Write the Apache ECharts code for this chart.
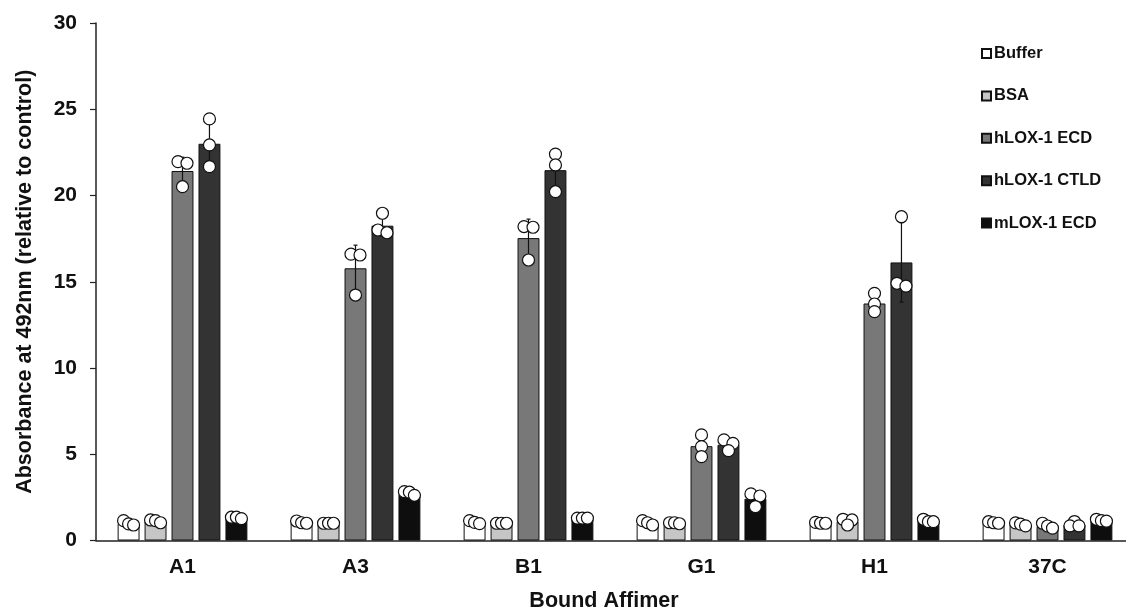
<!DOCTYPE html>
<html>
<head>
<meta charset="utf-8">
<script src="https://cdn.jsdelivr.net/npm/echarts@6/dist/echarts.min.js"></script>
<style>
  html, body { margin: 0; padding: 0; background: #fff; }
  #chart { width: 1126px; height: 610px; }
</style>
</head>
<body>
<div id="chart"></div>
<script>
// ---------- data ----------
const categories = ['A1', 'A3', 'B1', 'G1', 'H1', '37C'];
const seriesNames = ['Buffer', 'BSA', 'hLOX-1 ECD', 'hLOX-1 CTLD', 'mLOX-1 ECD'];
const yTicks = [0, 5, 10, 15, 20, 25, 30];

// bar heights (means)
const bufferMean = [1.0, 1.0, 1.0, 1.0, 1.0, 1.0];
const bsaMean    = [1.09, 0.98, 1.0, 1.0, 1.09, 0.92];
const hEcdMean   = [21.42, 15.78, 17.53, 5.47, 13.74, 0.8];
const hCtldMean  = [23.0, 18.25, 21.47, 5.55, 16.12, 0.92];
const mEcdMean   = [1.32, 2.7, 1.29, 2.42, 1.12, 1.18];

// error bars (SD)
const bufferSd = [0.12, 0.07, 0.08, 0.12, 0.03, 0.05];
const bsaSd    = [0.08, 0.02, 0.02, 0.04, 0.17, 0.1];
const hEcdSd   = [0.8, 1.34, 1.1, 0.63, 0.53, 0.1];
const hCtldSd  = [1.4, 0.6, 1.1, 0.31, 2.3, 0.15];
const mEcdSd   = [0.05, 0.12, 0.02, 0.4, 0.08, 0.07];

// individual replicates
const bufferPts = [[0.9, 1.15, 0.96], [1.03, 1.0, 1.13], [1.05, 1.15, 0.98], [0.9, 1.03, 1.15], [1.0, 1.05, 1.0], [1.03, 1.09, 1.0]];
const bsaPts    = [[1.03, 1.19, 1.15], [1.0, 1.0, 1.0], [1.0, 1.0, 1.0], [1.03, 1.03, 0.97], [0.9, 1.19, 1.23], [0.85, 0.95, 1.02]];
const hEcdPts   = [[21.87, 21.96, 20.51], [16.55, 16.6, 14.23], [18.16, 18.2, 16.26], [6.12, 5.44, 4.86], [14.33, 13.71, 13.27], [0.84, 1.0, 0.72]];
const hCtldPts  = [[24.44, 22.93, 21.67], [18.97, 17.84, 18.0], [22.4, 21.77, 20.22], [5.83, 5.63, 5.21], [18.77, 14.91, 14.75], [0.85, 1.1, 0.85]];
const mEcdPts   = [[1.35, 1.35, 1.27], [2.83, 2.8, 2.62], [1.3, 1.3, 1.3], [2.58, 2.7, 1.96], [1.09, 1.23, 1.09], [1.23, 1.15, 1.12]];

// ---------- styling / layout ----------
const means = [bufferMean, bsaMean, hEcdMean, hCtldMean, mEcdMean];
const sds = [bufferSd, bsaSd, hEcdSd, hCtldSd, mEcdSd];
const pts = [bufferPts, bsaPts, hEcdPts, hCtldPts, mEcdPts];
const colors = ['#ffffff', '#c6c6c6', '#787878', '#333333', '#0e0e0e'];
const CAT_GAP = 0.25, BAR_GAP = 0.23;
const FONT = '"Liberation Sans", Arial, sans-serif';

function barOffset(api, k) {
  const band = api.size([1, 0])[0];
  const n = seriesNames.length;
  const w = band * (1 - CAT_GAP) / (n + (n - 1) * BAR_GAP);
  const total = n * w + (n - 1) * w * BAR_GAP;
  return -total / 2 + k * w * (1 + BAR_GAP) + w / 2;
}

const barSeries = seriesNames.map((name, k) => ({
  name: name,
  type: 'bar',
  data: means[k],
  barGap: (BAR_GAP * 100) + '%',
  barCategoryGap: (CAT_GAP * 100) + '%',
  itemStyle: { color: colors[k], borderColor: '#111', borderWidth: 1 },
  z: 2,
  silent: true
}));

const errData = [];
const ptData = [];
for (let k = 0; k < seriesNames.length; k++) {
  for (let c = 0; c < categories.length; c++) {
    errData.push([c, k, means[k][c], sds[k][c]]);
    ptData.push([c, k].concat(pts[k][c]));
  }
}

const errSeries = {
  type: 'custom',
  data: errData,
  encode: { x: 0, y: 2 },
  z: 3,
  silent: true,
  renderItem: function (params, api) {
    const c = api.value(0), k = api.value(1), m = api.value(2), s = api.value(3);
    const off = barOffset(api, k);
    const top = api.coord([c, m + s]);
    const bot = api.coord([c, Math.max(0, m - s)]);
    const x = top[0] + off;
    const style = { stroke: '#111', lineWidth: 1.2 };
    return {
      type: 'group',
      children: [
        { type: 'line', shape: { x1: x, y1: top[1], x2: x, y2: bot[1] }, style: style },
        { type: 'line', shape: { x1: x - 2, y1: top[1], x2: x + 2, y2: top[1] }, style: style },
        { type: 'line', shape: { x1: x - 2, y1: bot[1], x2: x + 2, y2: bot[1] }, style: style }
      ]
    };
  }
};

const ptSeries = {
  type: 'custom',
  data: ptData,
  encode: { x: 0, y: [2, 3, 4] },
  z: 4,
  silent: true,
  renderItem: function (params, api) {
    const c = api.value(0), k = api.value(1);
    const off = barOffset(api, k);
    const items = [];
    for (let i = 0; i < 3; i++) {
      const p = api.coord([c, api.value(2 + i)]);
      items.push({ x: p[0] + off, y: p[1] });
    }
    items.sort((a, b) => a.y - b.y);
    // group near-identical values and spread them sideways
    const clusters = [];
    items.forEach((it) => {
      const last = clusters[clusters.length - 1];
      if (last && Math.abs(it.y - last[last.length - 1].y) < 4) last.push(it);
      else clusters.push([it]);
    });
    const children = [];
    clusters.forEach((cl) => {
      const sp = cl.length === 2 ? 9 : 5;
      cl.forEach((it, j) => {
        children.push({
          type: 'circle',
          shape: { cx: it.x + (j - (cl.length - 1) / 2) * sp, cy: it.y, r: 6 },
          style: { fill: '#fff', stroke: '#111', lineWidth: 1.2 }
        });
      });
    });
    return { type: 'group', children: children };
  }
};

const chart = echarts.init(document.getElementById('chart'), null, { renderer: 'canvas' });
chart.setOption({
  animation: false,
  backgroundColor: '#fff',
  textStyle: { fontFamily: FONT },
  grid: { left: 96, top: 23, width: 1038, height: 517.5, containLabel: false, outerBoundsMode: 'none' },
  legend: {
    data: seriesNames,
    orient: 'vertical',
    left: 981,
    top: 45,
    padding: 0,
    itemWidth: 9,
    itemHeight: 9,
    itemGap: 25.4,
    icon: 'rect',
    selectedMode: false,
    textStyle: { fontFamily: FONT, fontWeight: 'bold', fontSize: 16.5, color: '#111', lineHeight: 17, padding: [0, 0, 0, -2] }
  },
  xAxis: {
    type: 'category',
    data: categories,
    name: 'Bound Affimer',
    nameLocation: 'middle',
    nameGap: 50,
    nameTextStyle: { fontFamily: FONT, fontWeight: 'bold', fontSize: 21.5, color: '#111', padding: [0, 22, 0, 0] },
    axisLine: { lineStyle: { color: '#222', width: 1.5 } },
    axisTick: { show: false },
    axisLabel: { fontFamily: FONT, fontWeight: 'bold', fontSize: 21, color: '#111', margin: 16 }
  },
  yAxis: {
    type: 'value',
    min: yTicks[0],
    max: yTicks[yTicks.length - 1],
    interval: 5,
    name: 'Absorbance at 492nm (relative to control)',
    nameLocation: 'middle',
    nameGap: 60,
    nameTextStyle: { fontFamily: FONT, fontWeight: 'bold', fontSize: 21.5, color: '#111' },
    axisLine: { show: true, lineStyle: { color: '#222', width: 1.5 } },
    axisTick: { show: true, inside: false, length: 6, lineStyle: { color: '#222', width: 1.2 } },
    splitLine: { show: false },
    axisLabel: { fontFamily: FONT, fontWeight: 'bold', fontSize: 21, color: '#111', margin: 19 }
  },
  series: barSeries.concat([errSeries, ptSeries])
});
</script>
</body>
</html>
